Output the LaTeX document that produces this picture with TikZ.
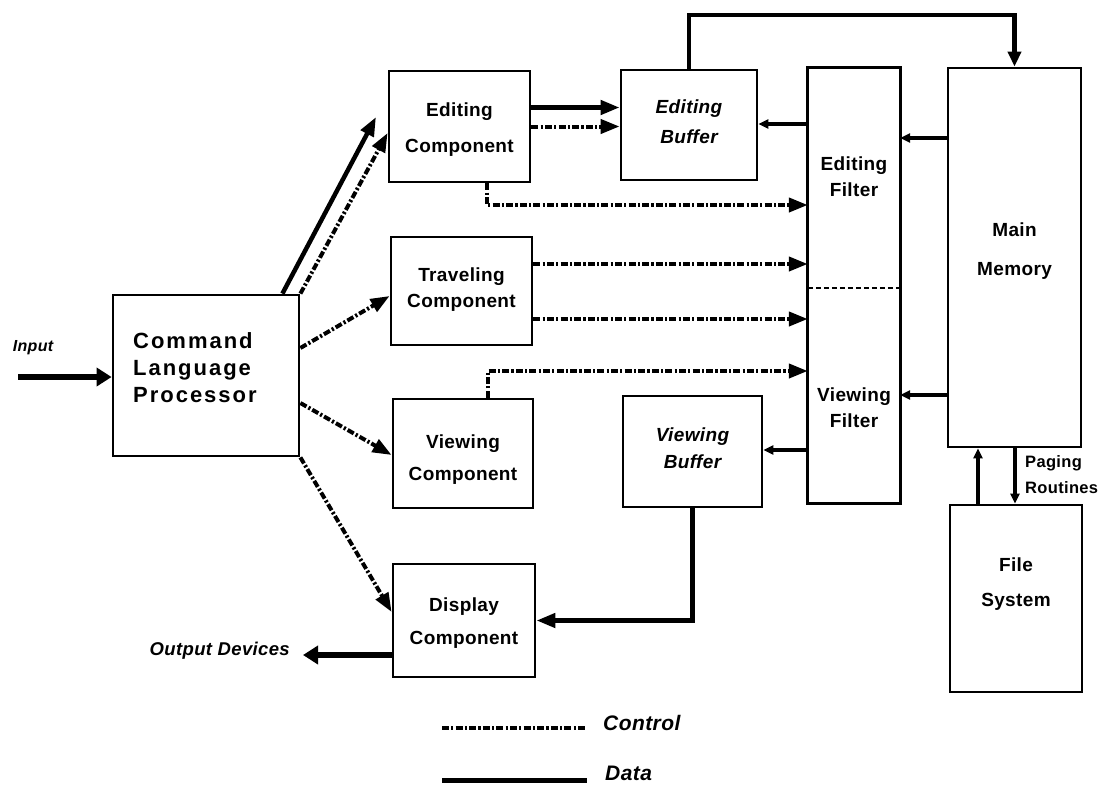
\documentclass[tikz,border=0pt]{standalone}
\usepackage{fontspec}
\setmainfont{Liberation Sans}
\newfontfamily\widefont{Liberation Sans}[LetterSpace=2]
\newfontfamily\widerfont{Liberation Sans}[LetterSpace=9]
\usetikzlibrary{arrows.meta,calc}

\begin{document}
\begin{tikzpicture}[x=1pt,y=-1pt,
  box/.style={draw,line width=2.8pt,rectangle,inner sep=0pt},
  ghost/.style={rectangle,inner sep=0pt},
  lbl/.style={font=\widefont\bfseries\fontsize{19}{#1}\selectfont,align=center,inner sep=0pt},
  lbl/.default=30,
  ilbl/.style={font=\widefont\bfseries\itshape\fontsize{19}{#1}\selectfont,align=center,inner sep=0pt},
  ilbl/.default=30,
  ctrlline/.style={line width=4pt,dash pattern=on 7pt off 2.2pt on 2.2pt off 2.2pt},
  ctrl/.style={ctrlline,-{Triangle[length=19pt,width=14pt]}},
  data/.style={line width=4.5pt,-{Triangle[length=19pt,width=14pt]}},
  bigdata/.style={line width=6.5pt,-{Triangle[length=15pt,width=18pt]}},
  smalldata/.style={line width=3.6pt,-{Triangle[length=10pt,width=9pt]}},
  divider/.style={line width=2.2pt,dash pattern=on 5pt off 3pt},
]
\useasboundingbox (0,0) rectangle (1114,793);

% ---- blocks ----
\node[box,minimum width=186,minimum height=161] (clp) at (206,375.5) {};
\node[box,minimum width=141,minimum height=111] (ec)  at (459.5,126.5) {};
\node[box,minimum width=141,minimum height=108] (tc)  at (461.5,291) {};
\node[box,minimum width=140,minimum height=109] (vc)  at (463,453.5) {};
\node[box,minimum width=142,minimum height=113] (dc)  at (464,620.5) {};
\node[box,minimum width=136,minimum height=110] (eb)  at (689,125) {};
\node[box,minimum width=139,minimum height=111] (vb)  at (692.5,451.5) {};
\node[ghost,minimum width=92,minimum height=220] (ef) at (854,178) {};
\node[ghost,minimum width=92,minimum height=215] (vf) at (854,395.5) {};
\node[box,minimum width=133,minimum height=379] (mm)  at (1014.5,257.5) {};
\node[box,minimum width=132,minimum height=187] (fs)  at (1016,598.5) {};

% filter column: one outline split by a dashed line
\draw[line width=2.8pt] (ef.north west) rectangle (vf.south east);
\draw[divider] (ef.south west) -- (ef.south east);

% ---- block texts ----
\node[anchor=west,align=left,inner sep=0pt,
      font=\widerfont\bfseries\fontsize{22}{27}\selectfont] (clptxt) at (133,368)
      {Command\\Language\\Processor};
\node[lbl=36] (ectxt) at (459.5,130) {Editing\\Component};
\node[lbl=26] (tctxt) at (461.5,290) {Traveling\\Component};
\node[lbl=32] (vctxt) at (463,460) {Viewing\\Component};
\node[lbl=33] (dctxt) at (464,623.5) {Display\\Component};
\node[ilbl=30] (ebtxt) at (689,122) {Editing\\Buffer};
\node[ilbl=27] (vbtxt) at (692.5,448.5) {Viewing\\Buffer};
\node[lbl=26] (eftxt) at (854,177) {Editing\\Filter};
\node[lbl=26] (vftxt) at (854,408) {Viewing\\Filter};
\node[lbl=39] (mmtxt) at (1014.5,251) {Main\\Memory};
\node[lbl=35] (fstxt) at (1016,584.5) {File\\System};

% ---- external labels ----
\node[inner sep=0pt,font=\widefont\bfseries\itshape\fontsize{16}{18}\selectfont] (intxt) at (33,348) {Input};
\node[anchor=east,inner sep=0pt,font=\widefont\bfseries\itshape\fontsize{18.5}{20}\selectfont] (outtxt) at (290,651) {Output Devices};
\node[anchor=west,align=left,inner sep=0pt,font=\widefont\bfseries\fontsize{16.5}{26}\selectfont] (pgtxt) at (1025,475) {Paging\\Routines};

% ---- input / output ----
\coordinate (inp) at (18,377);
\draw[bigdata] (inp) -- (inp -| clp.west);
\coordinate (outp) at (303,655);
\draw[bigdata] (outp -| dc.west) -- (outp);

% ---- command language processor to the components ----
\coordinate (ecd) at (376,117);
\draw[data] ($(clp.north east)+(-18,0)$) -- (ecd);
\draw[ctrl] (clp.north east) -- ($(ec.west)+(0,6.5)$);
\draw[ctrl] ($(clp.east)+(0,-27.5)$) -- ($(tc.west)+(0,5)$);
\draw[ctrl] ($(clp.east)+(0,27.5)$) -- ($(vc.west)+(0,1.5)$);
\draw[ctrl] (clp.south east) -- ($(dc.west)+(0,-8.5)$);

% ---- editing component ----
\coordinate (d1) at ($(ec.east)+(0,-19)$);
\draw[data] (d1) -- (d1 -| eb.west);
\draw[ctrl] (ec.east) -- (ec.east -| eb.west);
\coordinate (c1) at (487,205);
\draw[ctrl] (ec.south -| c1) -- (c1) -- (c1 -| ef.west);

% ---- traveling component ----
\coordinate (t1) at ($(tc.east)+(0,-27)$);
\draw[ctrl] (t1) -- (t1 -| ef.west);
\coordinate (t2) at ($(tc.east)+(0,28)$);
\draw[ctrl] (t2) -- (t2 -| vf.west);

% ---- viewing component ----
\coordinate (v1) at (488,371);
\draw[ctrl] (vc.north -| v1) -- (v1) -- (v1 -| vf.west);

% ---- filters, buffers and memory ----
\coordinate (e1) at ($(ef.west)+(0,-54)$);
\draw[smalldata] (e1) -- (e1 -| eb.east);
\coordinate (m1) at ($(mm.west)+(0,-119.5)$);
\draw[smalldata] (m1) -- (m1 -| ef.east);
\coordinate (m2) at ($(mm.west)+(0,137.5)$);
\draw[smalldata] (m2) -- (m2 -| vf.east);
\coordinate (w1) at ($(vf.west)+(0,54.5)$);
\draw[smalldata] (w1) -- (w1 -| vb.east);
\draw[data] (vb.south) |- (dc.east);

\coordinate (topline) at (0,15);
\draw[line width=4.5pt,-{Triangle[length=15pt,width=13pt]}]
  (eb.north) -- (eb.north |- topline) -- (mm.north |- topline) -- (mm.north);

% ---- paging routines ----
\coordinate (f1) at (978,0);
\coordinate (f2) at (1015,0);
\draw[smalldata] (f1 |- fs.north) -- (f1 |- mm.south);
\draw[smalldata] (f2 |- mm.south) -- (f2 |- fs.north);

% ---- legend ----
\coordinate (lc1) at (442,728);
\coordinate (lc2) at (587,728);
\draw[ctrlline] (lc1) -- (lc2);
\node[anchor=west,inner sep=0pt,font=\widefont\bfseries\itshape\fontsize{21}{24}\selectfont] (lctxt) at (603,723) {Control};
\coordinate (ld1) at (442,780);
\coordinate (ld2) at (587,780);
\draw[line width=5pt] (ld1) -- (ld2);
\node[anchor=west,inner sep=0pt,font=\widefont\bfseries\itshape\fontsize{21}{24}\selectfont] (ldtxt) at (605,773) {Data};
\end{tikzpicture}
\end{document}
